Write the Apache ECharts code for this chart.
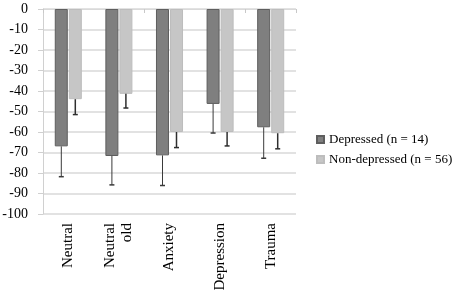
<!DOCTYPE html>
<html><head><meta charset="utf-8">
<script src="https://cdn.jsdelivr.net/npm/echarts@6/dist/echarts.min.js"></script>
<style>html,body{margin:0;padding:0;background:#fff}#c{width:454px;height:295px}</style>
</head><body><div id="c"></div>
<script>
const categories = ['Neutral', 'Neutral\nold', 'Anxiety', 'Depression', 'Trauma'];
const depressed = [-67, -71.7, -71.4, -46.3, -57.7];
const depressedLow = [-81.8, -85.8, -86.1, -60.5, -72.8];
const nonDepressed = [-44, -41.4, -60, -60, -60.6];
const nonDepressedLow = [-51.5, -48.3, -67.6, -66.8, -68.2];
const yTicks = {min: -100, max: 0, interval: 10};
const seriesNames = ['Depressed (n = 14)', 'Non-depressed (n = 56)'];

const font = 'Liberation Serif';
const chart = echarts.init(document.getElementById('c'));

function errBar(offset, color, lw) {
  return function (params, api) {
    const i = api.value(0);
    const p1 = api.coord([i, api.value(1)]);
    const p2 = api.coord([i, api.value(2)]);
    const x = p1[0] + offset;
    return {
      type: 'group',
      children: [
        {type: 'line', shape: {x1: x, y1: p1[1], x2: x, y2: p2[1]}, style: {stroke: color, lineWidth: lw}},
        {type: 'line', shape: {x1: x - 2.5, y1: p2[1], x2: x + 2.5, y2: p2[1]}, style: {stroke: color, lineWidth: 1.5}}
      ]
    };
  };
}

chart.setOption({
  animation: false,
  textStyle: {fontFamily: font},
  grid: {left: 43, right: 158, top: 9, bottom: 81, outerBoundsMode: 'none'},
  legend: {
    orient: 'vertical', left: 311, top: 128, itemWidth: 7, itemHeight: 7, itemGap: 7, icon: 'rect',
    textStyle: {fontFamily: font, fontSize: 13, color: '#000'},
    data: seriesNames
  },
  xAxis: [
    {type: 'category', data: categories, position: 'bottom',
     axisLine: {show: false}, axisTick: {show: false},
     axisLabel: {rotate: 90, fontFamily: font, fontSize: 15, color: '#000', margin: 9, lineHeight: 17}},
    {type: 'category', data: categories, position: 'top',
     axisLine: {show: true, lineStyle: {color: '#d9d9d9', width: 1}},
     axisTick: {show: true, inside: true, length: 4, lineStyle: {color: '#c8c8c8'}},
     axisLabel: {show: false}}
  ],
  yAxis: [{
    type: 'value', min: yTicks.min, max: yTicks.max, interval: yTicks.interval,
    axisLine: {show: true, lineStyle: {color: '#d0d0d0', width: 1}},
    axisTick: {show: true, length: 5, lineStyle: {color: '#d0d0d0'}},
    axisLabel: {show: true, fontFamily: font, fontSize: 14, color: '#000', margin: 15, align: 'right'},
    splitLine: {show: true, lineStyle: {color: '#d9d9d9', width: 1.5}}
  }],
  series: [
    {name: seriesNames[0], type: 'bar', data: depressed, barWidth: 13, barGap: '8%',
     itemStyle: {color: '#7f7f7f', borderColor: '#5e5e5e', borderWidth: 1}},
    {name: seriesNames[1], type: 'bar', data: nonDepressed, barWidth: 13, barGap: '8%',
     itemStyle: {color: '#c6c6c6', borderColor: '#bdbdbd', borderWidth: 1}},
    {type: 'custom', renderItem: errBar(-7, '#3a3a3a', 1), z: 5,
     data: depressed.map((v, i) => [i, v, depressedLow[i]])},
    {type: 'custom', renderItem: errBar(7, '#2e2e2e', 1.5), z: 5,
     data: nonDepressed.map((v, i) => [i, v, nonDepressedLow[i]])}
  ]
});
</script></body></html>
